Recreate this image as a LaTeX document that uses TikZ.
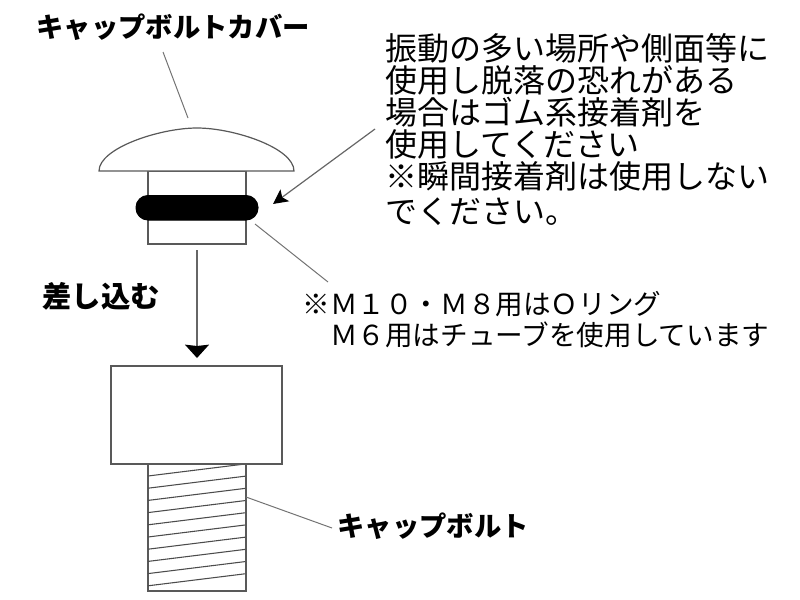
\documentclass[tikz,border=0pt]{standalone}
\usepackage{fontspec}
\newfontfamily\jpfont{Noto Sans CJK JP}
\usetikzlibrary{arrows.meta}
\tikzset{every picture/.style={line width=0.75pt}}
\tikzset{
	part/.style={draw=black!65,line width=0.9pt,fill=white},
	leader/.style={draw=black!55,line width=0.75pt},
	pointer/.style={draw=black!60,line width=0.9pt,-{Stealth[length=11pt,width=11pt,inset=2.5pt,black]}},
	downpointer/.style={draw=black!60,line width=0.9pt,-{Stealth[length=10pt,width=18pt,inset=1pt,black]}},
	bigtitle/.style={font=\jpfont\bfseries\fontsize{20.5}{21}\selectfont,inner sep=0pt},
	notetext/.style={font=\jpfont\fontsize{24}{24}\selectfont,inner sep=0pt,align=left,anchor=north west},
	smalltext/.style={font=\jpfont\fontsize{20.7}{23}\selectfont,inner sep=0pt,align=left,anchor=north west}
}

\begin{document}
\begin{tikzpicture}[x=0.75pt,y=0.75pt,yscale=-1,xscale=1]
	\useasboundingbox (0,0) rectangle (800,600);

	%Cover stem
	\draw [part] (148,171) rectangle (246,244);
	%Cover dome
	\draw [part] (99,171) .. controls (99,148) and (160,128) .. (197,128) .. controls (234,128) and (294,148) .. (294,171) -- cycle;
	%O-ring
	\draw [fill=black,draw=black,rounded corners=9pt] (136,195.5) rectangle (258,220);

	%Bolt shaft
	\draw [part] (148,464) -- (148,591) -- (246,591) -- (246,464);
	%Threads
	\foreach \i in {0,...,9}
		\draw [draw=black!70,line width=0.8pt] (148,{476+12.2*\i}) -- (245,{464+12.2*\i});
	%Bolt head
	\draw [part] (111,366) rectangle (282,464);

	%Text nodes
	\node (covertitle) [bigtitle] at (173,27) {キャップボルトカバー};
	\node (insertlabel) [bigtitle,font=\jpfont\bfseries\fontsize{22}{22}\selectfont] at (101,296) {差し込む};
	\node (bolttitle) [bigtitle] at (433,526) {キャップボルト};
	\node (adhesivenote) [notetext] at (385,33) {振動の多い場所や側面等に\\使用し脱落の恐れがある\\場合はゴム系接着剤を\\使用してください\\※瞬間接着剤は使用しない\\[2.5pt]でください。};
	\node (ringnote) [smalltext] at (302,291) {※Ｍ１０・Ｍ８用はＯリング\\　Ｍ６用はチューブを使用しています};

	%Leaders
	\coordinate (covertop) at (188,118);
	\coordinate (ringside) at (255,224);
	\coordinate (ringnoteend) at (328,282);
	\coordinate (threadside) at (246,497);
	\coordinate (adhesivestart) at (375,129);
	\coordinate (ringpoint) at (273,204);
	\coordinate (insertstart) at (197,250);
	\coordinate (inserttip) at (197,358);
	\draw [leader] (163,52) -- (covertop);
	\draw [leader] (ringside) -- (ringnoteend);
	\draw [leader] (threadside) -- (332,528);
	\draw [pointer] (adhesivestart) -- (ringpoint);
	\draw [downpointer] (insertstart) -- (inserttip);

\end{tikzpicture}
\end{document}
